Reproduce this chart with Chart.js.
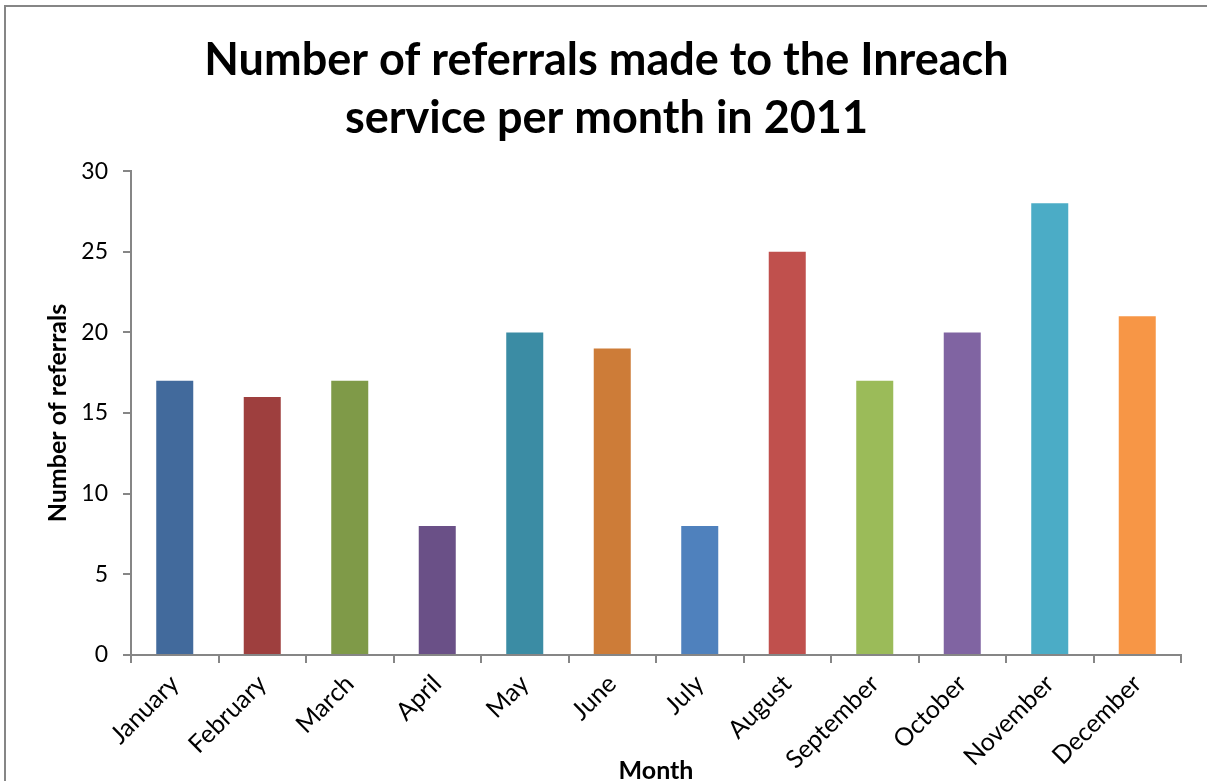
<!DOCTYPE html>
<html>
<head>
<meta charset="utf-8">
<script src="https://cdn.jsdelivr.net/npm/chart.js@4.4.1/dist/chart.umd.min.js"></script>
<style>
  html, body { margin: 0; padding: 0; background: #ffffff; overflow: hidden; }
  #wrap { position: absolute; left: 0; top: 0; width: 1207px; height: 781px; }
  #frame { position: absolute; left: 4px; top: 5px; width: 1220px; height: 800px;
           border-left: 2px solid #868686; border-top: 2px solid #868686; pointer-events: none; }
</style>
</head>
<body>
<div id="wrap">
  <canvas id="chart" width="1207" height="781"></canvas>
  <div id="frame"></div>
</div>
<script>
// Referrals to the Inreach service, 2011
const months = ['January', 'February', 'March', 'April', 'May', 'June',
                'July', 'August', 'September', 'October', 'November', 'December'];
const referrals = [17, 16, 17, 8, 20, 19, 8, 25, 17, 20, 28, 21];
const yTicks = [0, 5, 10, 15, 20, 25, 30];

// One colour per month bar
const palette = ['#426A9C', '#9E3F3E', '#7F9A48', '#6A5087', '#3B8CA4', '#CD7C38',
                 '#4F81BD', '#C0504D', '#9BBB59', '#8064A2', '#4BACC6', '#F79646'];

const FONT = 'Lato, "Open Sans", sans-serif';
const AXIS = '#868686';

new Chart(document.getElementById('chart'), {
  type: 'bar',
  data: {
    labels: months,
    datasets: [{
      data: referrals,
      backgroundColor: palette,
      borderWidth: 0,
      barPercentage: 0.423,
      categoryPercentage: 1.0
    }]
  },
  options: {
    responsive: false,
    animation: false,
    devicePixelRatio: 1,
    layout: { padding: { left: 32, right: 26, top: 0, bottom: 0 } },
    plugins: {
      legend: { display: false },
      tooltip: { enabled: false },
      title: {
        display: true,
        text: ['Number of referrals made to the Inreach', 'service per month in 2011'],
        color: '#000000',
        font: { family: FONT, size: 45, weight: 'bold', lineHeight: 1.29 },
        padding: { top: 31, bottom: 24 }
      }
    },
    scales: {
      x: {
        type: 'category',
        offset: true,
        grid: {
          display: true, offset: true, drawOnChartArea: false, drawTicks: true,
          tickLength: 8, color: AXIS, lineWidth: 2
        },
        border: { display: true, color: AXIS, width: 2 },
        ticks: {
          color: '#000000', font: { family: FONT, size: 25 },
          minRotation: 45, maxRotation: 45, padding: 6, autoSkip: false
        },
        title: {
          display: true, text: 'Month', color: '#000000',
          font: { family: FONT, size: 25, weight: 'bold', lineHeight: 1.2 },
          padding: { top: 0, bottom: -5 }
        },
        afterFit: (scale) => { scale.height = 126; }
      },
      y: {
        min: 0, max: 30,
        grid: {
          display: true, drawOnChartArea: false, drawTicks: true,
          tickLength: 8, color: AXIS, lineWidth: 2
        },
        border: { display: true, color: AXIS, width: 2 },
        afterBuildTicks: (scale) => { scale.ticks = yTicks.map(v => ({ value: v })); },
        ticks: {
          color: '#000000', font: { family: FONT, size: 23 }, padding: 15
        },
        title: {
          display: true, text: 'Number of referrals', color: '#000000',
          font: { family: FONT, size: 25, weight: 'bold', lineHeight: 1.2 },
          padding: { top: 11, bottom: 0 }
        },
        afterFit: (scale) => { scale.width = 99; }
      }
    }
  }
});
</script>
</body>
</html>
